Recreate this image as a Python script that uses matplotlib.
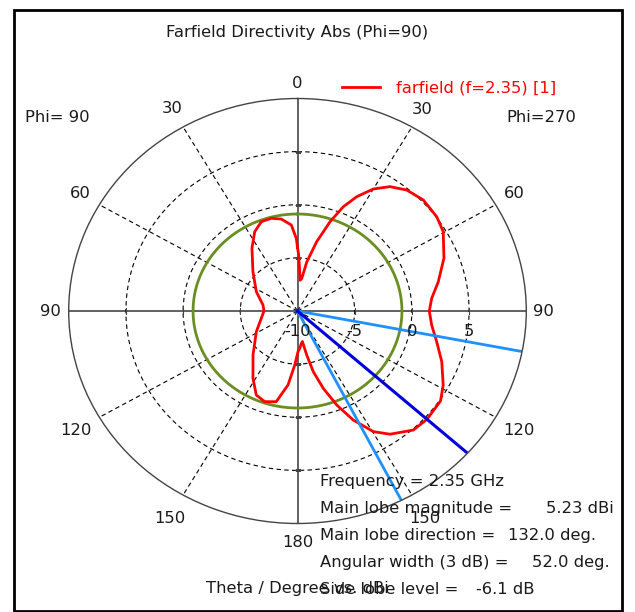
import numpy as np
import matplotlib
matplotlib.use('Agg')
import matplotlib.pyplot as plt
from matplotlib import transforms
from matplotlib.patches import Rectangle

# ---- data -------------------------------------------------------------------
# polar angle, clockwise from the top: 0..180 = theta at Phi=270 (right half),
# 180..360 = theta at Phi=90 (left half, mirrored)
ANGLE_DEG = [0, 1.1, 3, 4.5, 7, 10, 14.4, 18.7, 22.2, 25.7, 30, 34.6, 40, 46.5,
             53.9, 59.6, 68.8, 77.4, 84.2, 90, 96.4, 103.4, 110.7, 118.7, 124.1,
             132, 137.9, 145.1, 149.7, 154.6, 158.8, 162.8, 166.4, 169, 171.5,
             174, 176.6, 179.3, 182.7, 186.8, 192.3, 198.6, 204.5, 211.6, 223.2,
             241.6, 257.7, 270, 280.6, 296.8, 313.5, 326.0, 333.4, 339.4, 345.3,
             350.7, 356.2, 359.1, 360]
DIR_DBI = [-4.0, -4.73, -6.3, -7.1, -6.9, -5.3, -3.27, -1.13, 0.60, 1.94, 3.26,
           4.22, 4.86, 5.17, 5.06, 4.77, 3.73, 2.61, 1.79, 1.52, 1.80, 2.51,
           3.48, 4.52, 5.10, 5.23, 5.10, 4.14, 3.15, 1.36, -0.51, -2.38, -4.12,
           -5.78, -7.1, -6.9, -6.5, -6.17, -4.91, -2.99, -1.26, -1.0, -1.31,
           -2.57, -4.32, -5.91, -6.76, -7.07, -6.93, -5.97, -4.63, -2.88, -1.65,
           -1.02, -0.98, -1.23, -1.89, -3.16, -4.0]

FREQ_GHZ = 2.35
MAIN_LOBE_DBI = 5.23
MAIN_LOBE_DIR = 132.0
BEAM_EDGES = [101.0, 153.0]          # 3 dB points
ANG_WIDTH = 52.0
SIDE_LOBE_DB = -6.1

R_MIN, R_MAX = -10, 10
R_RINGS = [-5, 0, 5]
R_LABELS = [-10, -5, 0, 5]
THETA_TICKS = [0, 30, 60, 90, 120, 150, 180, 210, 240, 270, 300, 330]
THETA_LABELS = ['0', '30', '60', '90', '120', '150', '180',
                '150', '120', '90', '60', '30']
# label distance from the rim (points), per tick
THETA_PAD = [0, 4.3, 5.0, 1.5, 8.5, 8.8, 2.9, 9.2, 8.7, 2.6, 5.4, 4.7]

INFO_LABELS = ['Frequency = 2.35 GHz', 'Main lobe magnitude =',
               'Main lobe direction =', 'Angular width (3 dB) =',
               'Side lobe level =']
INFO_VALUES = ['', f'{MAIN_LOBE_DBI:.2f} dBi', f'{MAIN_LOBE_DIR:.1f} deg.',
               f'{ANG_WIDTH:.1f} deg.', f'{SIDE_LOBE_DB:.1f} dB']
INFO_VALUE_X = [0, 546, 508, 532, 476]

W, H = 635, 612
FS = 11.8
TXT = '#1a1a1a'

plt.rcParams['font.family'] = ['DejaVu Sans']

fig = plt.figure(figsize=(W / 100, H / 100), dpi=100)
fig.patch.set_facecolor('white')

# outer frame
fig.patches.append(Rectangle((14 / W, 1 - 611 / H), 608 / W, 601 / H,
                             transform=fig.transFigure, fill=False,
                             edgecolor='black', lw=2))

cx, cy, rx, ry = 297.5, 311.0, 228.8, 212.5
ax = fig.add_axes([(cx - rx) / W, 1 - (cy + ry) / H, 2 * rx / W, 2 * ry / H],
                  projection='polar')
ax.set_aspect('auto')
ax.set_theta_zero_location('N')
ax.set_theta_direction(-1)
ax.set_rlim(R_MIN, R_MAX)

# grid
ax.set_thetagrids(THETA_TICKS, THETA_LABELS)
ax.set_yticks(R_RINGS)
ax.set_yticklabels([])
ax.grid(True, color='black', linestyle=(0, (4, 3)), linewidth=0.8)
for ang, gl in zip(THETA_TICKS, ax.xaxis.get_gridlines()):
    if ang % 90 == 0:
        gl.set_linestyle('-')
        gl.set_color('#555555')
        gl.set_linewidth(1.3)
ax.spines['polar'].set_color('#444444')
ax.spines['polar'].set_linewidth(1.0)
ax.tick_params(axis='x', labelsize=FS, labelcolor=TXT, pad=1.5)
for tick, pad in zip(ax.xaxis.get_major_ticks(), THETA_PAD):
    tick.set_pad(pad)

# small ticks on the axis cross
for ang in [90, 270]:
    ax.plot(np.deg2rad([ang] * len(R_RINGS)), R_RINGS, ls='none', marker='|',
            ms=4, mew=0.8, color='#444444')
for ang in [0, 180]:
    ax.plot(np.deg2rad([ang] * len(R_RINGS)), R_RINGS, ls='none', marker='_',
            ms=4, mew=0.8, color='#444444')

# radial labels below the right-hand axis
lab_tr = transforms.offset_copy(ax.transData, fig=fig, x=0, y=-21, units='dots')
for r in R_LABELS:
    ax.text(np.pi / 2, r, str(r), transform=lab_tr, ha='center', va='center',
            fontsize=FS, color=TXT)

# side lobe level circle
sll = MAIN_LOBE_DBI + SIDE_LOBE_DB
circ = np.linspace(0, 2 * np.pi, 361)
ax.plot(circ, np.full_like(circ, sll), color='#6b8e23', lw=2)

# pattern
ax.plot(np.deg2rad(ANGLE_DEG), DIR_DBI, color='#ff0000', lw=2,
        label=f'farfield (f={FREQ_GHZ}) [1]')

# main lobe + beam width lines
for a in BEAM_EDGES:
    ax.plot(np.deg2rad([a, a]), [R_MIN, R_MAX], color='#1e90ff', lw=2)
ax.plot(np.deg2rad([MAIN_LOBE_DIR] * 2), [R_MIN, R_MAX], color='#0000dd', lw=2.2)

leg = ax.legend(loc='center left', bbox_to_anchor=(337 / W, 1 - 88 / H),
                bbox_transform=fig.transFigure, frameon=True, fontsize=FS,
                handlelength=2.3, handletextpad=1.0, borderpad=0.3,
                borderaxespad=0, labelcolor='#ff0000')
leg.get_frame().set_facecolor('white')
leg.get_frame().set_edgecolor('none')
leg.get_frame().set_alpha(1)

# texts
fig.text(cx / W, 1 - 33 / H, 'Farfield Directivity Abs (Phi=90)',
         ha='center', va='center', fontsize=FS, color=TXT)
fig.text(25 / W, 1 - 118 / H, 'Phi= 90', ha='left', va='center',
         fontsize=FS, color=TXT)
fig.text(506 / W, 1 - 118 / H, 'Phi=270', ha='left', va='center',
         fontsize=FS, color=TXT)
fig.text(cx / W, 1 - 589 / H, 'Theta / Degree vs. dBi', ha='center',
         va='center', fontsize=FS, color=TXT)
for i, (lab, val, vx) in enumerate(zip(INFO_LABELS, INFO_VALUES, INFO_VALUE_X)):
    y = 1 - (481.5 + 27.1 * i) / H
    fig.text(320 / W, y, lab, ha='left', va='center', fontsize=FS, color=TXT)
    if val:
        fig.text(vx / W, y, val, ha='left', va='center', fontsize=FS, color=TXT)

fig.savefig('out.png', dpi=100, facecolor='white')
